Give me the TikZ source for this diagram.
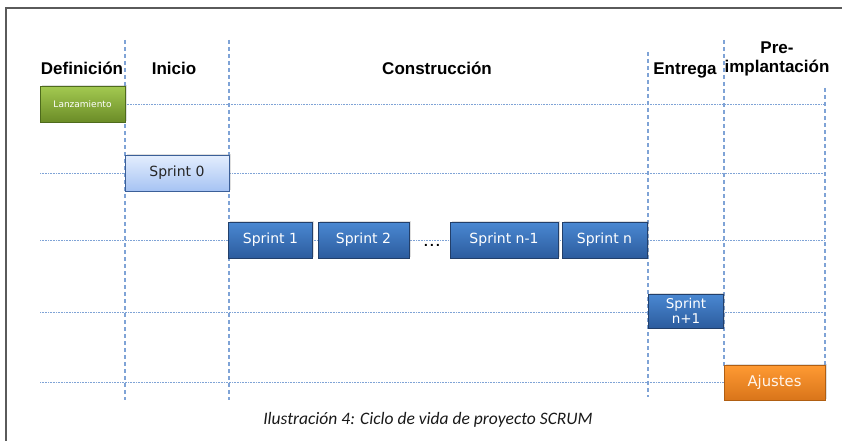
\documentclass[tikz,border=0pt]{standalone}
\usepackage{fontspec}
\setmainfont{Liberation Sans}
\newfontfamily\boxfont{DejaVu Sans}
\newfontfamily\capfont{Carlito}
\usetikzlibrary{shadows}
\definecolor{gridblue}{HTML}{7FA3D6}
\definecolor{frame}{HTML}{5A5A5A}
\definecolor{sprtop}{HTML}{4A88D2}
\definecolor{sprbot}{HTML}{2C5C9E}
\definecolor{sprline}{HTML}{223F6A}
\definecolor{s0top}{HTML}{E4EEFE}
\definecolor{s0bot}{HTML}{A6C3F3}
\definecolor{s0line}{HTML}{3B5F98}
\definecolor{gtop}{HTML}{A2C850}
\definecolor{gbot}{HTML}{6B8C27}
\definecolor{gline}{HTML}{4E6B1C}
\definecolor{otop}{HTML}{FF9A33}
\definecolor{obot}{HTML}{D9751A}
\definecolor{oline}{HTML}{B05E12}
\tikzset{
  x=1pt, y=-1pt,
  phase/.style={font=\bfseries\fontsize{17}{19}\selectfont, text=black, inner sep=0pt, align=center},
  vline/.style={gridblue, line width=1.3pt, dash pattern=on 4pt off 3pt},
  hline/.style={gridblue, line width=0.9pt, dash pattern=on 1pt off 0.6pt},
  boxbase/.style={rectangle, draw, line width=1pt, inner sep=1pt, align=center,
    drop shadow={opacity=0.25, shadow xshift=1.5pt, shadow yshift=1.5pt}},
  sprint/.style={boxbase, draw=sprline, top color=sprtop, bottom color=sprbot,
    text=white, font=\boxfont\fontsize{14}{15}\selectfont, minimum height=36pt},
  sprintzero/.style={boxbase, draw=s0line, top color=s0top, bottom color=s0bot,
    text=black!85, font=\boxfont\fontsize{14}{15}\selectfont, minimum height=36pt},
  greenbox/.style={boxbase, draw=gline, top color=gtop, bottom color=gbot,
    text=white, font=\boxfont\fontsize{9}{10}\selectfont, minimum height=35pt},
  orangebox/.style={boxbase, draw=oline, top color=otop, bottom color=obot,
    text=white!92!orange, font=\boxfont\fontsize{14.8}{16}\selectfont, minimum height=35pt},
}
\begin{document}
\begin{tikzpicture}
\useasboundingbox (0,0) rectangle (842,441);
% frame
\draw[frame, line width=1.6pt] (6,441) -- (6,8) -- (842,8);

% grid coordinates
\coordinate (v1t) at (125,40);  \coordinate (v1b) at (125,400);
\coordinate (v2t) at (229,40);  \coordinate (v2b) at (229,400);
\coordinate (v3t) at (648,52);  \coordinate (v3b) at (648,397);
\coordinate (v4t) at (724,40);  \coordinate (v4b) at (724,366);
\coordinate (v5t) at (825,88);  \coordinate (v5b) at (825,366);
\coordinate (h1r) at (825,104);
\coordinate (h2l) at (40,173);  \coordinate (h2r) at (825,173);
\coordinate (h3l) at (40,240);  \coordinate (h3r) at (825,240);
\coordinate (h4l) at (40,312);  \coordinate (h4r) at (825,312);
\coordinate (h5l) at (40,382);

% horizontal dotted lines
\draw[hline] (125,104) -- (h1r);
\draw[hline] (h2l) -- (h2r);
\draw[hline] (h3l) -- (h3r);
\draw[hline] (h4l) -- (h4r);
\draw[hline] (h5l) -- (724,382);

% vertical dashed lines
\draw[vline] (v1t) -- (v1b);
\draw[vline] (v2t) -- (v2b);
\draw[vline] (v3t) -- (v3b);
\draw[vline] (v4t) -- (v4b);
\draw[vline] (v5t) -- (v5b);

% phase headings
\node[phase] (hdef) at (82,68) {Definición};
\node[phase] (hini) at (174,68) {Inicio};
\node[phase] (hcon) at (437,68) {Construcción};
\node[phase] (hent) at (685,70) {Entrega};
\node[phase] (hpre) at (777,59) {Pre-\\implantación};

% boxes
\node[greenbox, minimum width=85pt] (lanz) at (82.5,104.5) {Lanzamiento};
\node[sprintzero, minimum width=104pt] (s0) at (177,173) {Sprint 0};
\node[sprint, minimum width=84pt] (s1) at (270.5,240) {Sprint 1};
\node[sprint, minimum width=91pt] (s2) at (363.5,240) {Sprint 2};
\node[font=\boxfont\bfseries\fontsize{11}{11}\selectfont, inner sep=0pt] (dots) at (432,245) {.\,.\,.};
\node[sprint, minimum width=108pt] (sn1) at (504,240) {Sprint n-1};
\node[sprint, minimum width=85pt] (sn) at (604.5,240) {Sprint n};
\node[sprint, minimum width=75pt, minimum height=34pt, inner sep=0pt,
      font=\boxfont\fontsize{13.5}{15}\selectfont] (snp) at (686,311) {Sprint\\n+1};
\node[orangebox, minimum width=101pt] (aj) at (774.5,382.5) {Ajustes};

% caption
\node[font=\capfont\itshape\fontsize{17.5}{19}\selectfont, text=black!90] (cap) at (428,420) {Ilustración 4: Ciclo de vida de proyecto SCRUM};
\end{tikzpicture}
\end{document}
